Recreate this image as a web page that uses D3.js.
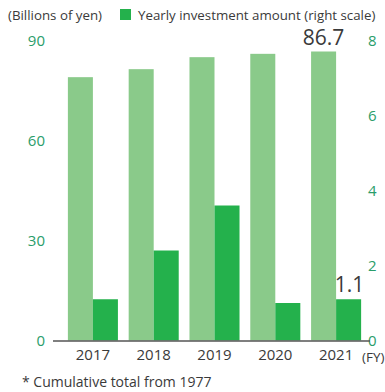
<!DOCTYPE html>
<html>
<head>
<meta charset="utf-8">
<script src="https://cdn.jsdelivr.net/npm/d3@7"></script>
<style>
  html, body { margin: 0; padding: 0; background: #fff; }
  svg { display: block; font-family: "Open Sans", "Noto Sans", sans-serif; }
</style>
</head>
<body>
<svg id="chart" width="385" height="392"></svg>
<script>
// Fiscal years on the category axis
const years = ["2017", "2018", "2019", "2020", "2021"];
// Cumulative total since 1977, billions of yen (left scale)
const cumulative = [79.0, 81.4, 85.0, 86.0, 86.7];
// Yearly investment, billions of yen (right scale)
const yearly = [1.1, 2.4, 3.6, 1.0, 1.1];
// Tick values for each vertical axis
const leftTicks = [0, 30, 60, 90];
const rightTicks = [0, 2, 4, 6, 8];

const lightGreen = "#8aca8a";
const darkGreen = "#24b14c";
const tickGreen = "#2a9d6a";
const textGrey = "#3a3a3a";

const svg = d3.select("#chart");

const plotTop = 40.5, plotBottom = 340.5;
const x = d3.scaleBand().domain(years).range([62.5, 366.5])
  .paddingInner(0.177).paddingOuter(0.0885);
const yLeft = d3.scaleLinear().domain([0, 90]).range([plotBottom, plotTop]);
const yRight = d3.scaleLinear().domain([0, 8]).range([plotBottom, plotTop]);
const half = x.bandwidth() / 2;

// Cumulative bars (left half of each group)
svg.append("g").selectAll("rect").data(years).join("rect")
  .attr("x", d => x(d))
  .attr("y", (d, i) => yLeft(cumulative[i]))
  .attr("width", half)
  .attr("height", (d, i) => plotBottom - yLeft(cumulative[i]))
  .attr("fill", lightGreen);

// Yearly investment bars (right half of each group)
svg.append("g").selectAll("rect").data(years).join("rect")
  .attr("x", d => x(d) + half)
  .attr("y", (d, i) => yRight(yearly[i]))
  .attr("width", half)
  .attr("height", (d, i) => plotBottom - yRight(yearly[i]))
  .attr("fill", darkGreen);

// Left axis labels
const leftAxis = d3.axisLeft(yLeft).tickValues(leftTicks).tickSize(0).tickPadding(0);
const gl = svg.append("g").attr("transform", "translate(45,0)").call(leftAxis);
gl.select(".domain").remove();
gl.selectAll("text").attr("fill", tickGreen).attr("font-size", 15)
  .attr("font-family", "Open Sans, sans-serif");

// Right axis labels
const rightAxis = d3.axisRight(yRight).tickValues(rightTicks).tickSize(0).tickPadding(0);
const gr = svg.append("g").attr("transform", "translate(368,0)").call(rightAxis);
gr.select(".domain").remove();
gr.selectAll("text").attr("fill", tickGreen).attr("font-size", 15)
  .attr("font-family", "Open Sans, sans-serif");

// Category axis
const bottomAxis = d3.axisBottom(x).tickSize(0).tickPadding(9);
const gb = svg.append("g").attr("transform", `translate(0,${plotBottom})`).call(bottomAxis);
gb.select(".domain").remove();
gb.selectAll("text").attr("fill", textGrey).attr("font-size", 15)
  .attr("font-family", "Open Sans, sans-serif");

// Baseline
svg.append("line")
  .attr("x1", 53).attr("x2", 370)
  .attr("y1", plotBottom + 0.5).attr("y2", plotBottom + 0.5)
  .attr("stroke", "#555").attr("stroke-width", 1.6);

svg.append("text").attr("x", 362).attr("y", 362)
  .attr("font-size", 13.5).attr("fill", textGrey).text("(FY)");

// Value labels on the latest year
const last = years.length - 1;
svg.append("text")
  .attr("x", x(years[last]) + half / 2)
  .attr("y", yLeft(cumulative[last]) - 7)
  .attr("text-anchor", "middle").attr("font-size", 21).attr("fill", textGrey)
  .text(cumulative[last].toFixed(1));
svg.append("text")
  .attr("x", x(years[last]) + half * 1.5 + 1)
  .attr("y", yRight(yearly[last]) - 7)
  .attr("text-anchor", "middle").attr("font-size", 21).attr("fill", textGrey)
  .text(yearly[last].toFixed(1));

// Unit note and legend
svg.append("text").attr("x", 8).attr("y", 20)
  .attr("font-size", 13.3).attr("fill", textGrey).text("(Billions of yen)");
svg.append("rect").attr("x", 120).attr("y", 9).attr("width", 11).attr("height", 11)
  .attr("fill", darkGreen);
svg.append("text").attr("x", 138).attr("y", 20)
  .attr("font-size", 13.3).attr("fill", textGrey).text("Yearly investment amount (right scale)");

// Footnote
svg.append("text").attr("x", 22).attr("y", 387)
  .attr("font-size", 14).attr("fill", textGrey).text("* Cumulative total from 1977");
</script>
</body>
</html>
